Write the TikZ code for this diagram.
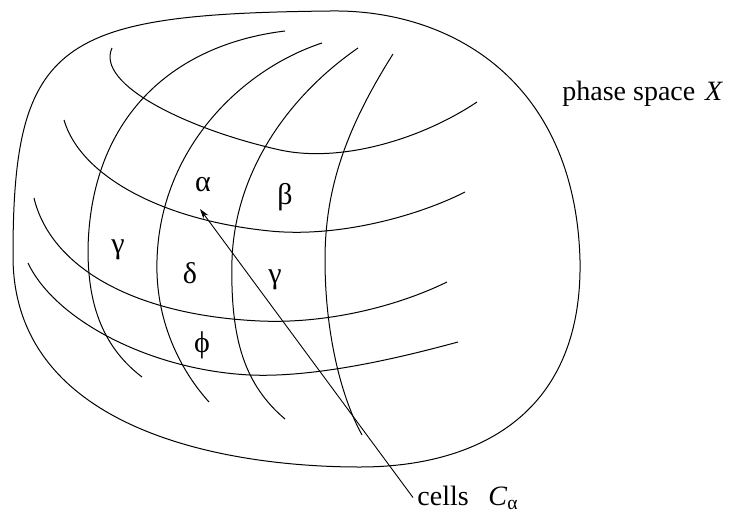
\documentclass[tikz,border=0pt]{standalone}
\usepackage{fontspec}
\setmainfont{Liberation Serif}
\usetikzlibrary{arrows.meta}

\begin{document}
\begin{tikzpicture}[
  x=0.5pt, y=-0.5pt,
  >=Stealth,
  fibre/.style={line width=0.5pt, black},
  vec/.style={->, line width=0.45pt, black, >={Stealth[length=5pt, width=3pt]}},
  cellname/.style={inner sep=0pt, font=\fontsize{15}{17}\selectfont},
  every node/.style={font=\fontsize{14}{16}\selectfont}
]
  \useasboundingbox (0,0) rectangle (733,514);

  % phase space boundary
  \draw[fibre] (13,255) .. controls (13,40) and (60,14) .. (330,11)
    .. controls (450,9) and (575,80) .. (580,260)
    .. controls (583,420) and (470,467) .. (360,467)
    .. controls (225,467) and (12,430) .. cycle;

  % horizontal fibres
  \draw[fibre] (112,48) .. controls (95,85) and (190,130) .. (280,150)
    .. controls (340,163) and (420,140) .. (477,102);
  \draw[fibre] (64,120) .. controls (80,175) and (160,220) .. (270,231)
    .. controls (340,238) and (420,215) .. (465,192);
  \draw[fibre] (34,198) .. controls (50,265) and (130,315) .. (260,321)
    .. controls (330,324) and (400,305) .. (447,282);
  \draw[fibre] (28,263) .. controls (55,320) and (150,370) .. (250,375)
    .. controls (320,378) and (410,355) .. (458,342);

  % vertical fibres
  \draw[fibre] (285,31) .. controls (170,45) and (90,120) .. (88,250)
    .. controls (88,300) and (100,345) .. (142,377);
  \draw[fibre] (322,43) .. controls (240,70) and (160,150) .. (157,260)
    .. controls (155,320) and (180,370) .. (209,402);
  \draw[fibre] (358,48) .. controls (290,95) and (235,170) .. (232,260)
    .. controls (230,340) and (245,385) .. (285,419);
  \draw[fibre] (393,54) .. controls (345,130) and (325,190) .. (325,260)
    .. controls (325,330) and (340,395) .. (362,435);

  % cell labels
  \foreach \nm/\x/\y/\g in {alpha/203/185/α, beta/285/197/β, gammaL/118/250/γ,
                           delta/190/273/δ, gammaR/275/280/γ, phi/202/345/ϕ} {
    \node[cellname] (\nm) at (\x,\y) {\g};
  }

  \node[anchor=base west, inner sep=0pt] (space) at (562,100) {phase space\hspace{0.35em}\textit{X}};
  \node[anchor=base west, inner sep=2pt] (cells) at (413,505) {cells\hspace{0.7em}\textit{C}\textsubscript{α}};

  \coordinate (tip) at (200,209);
  \draw[vec] (cells.west) -- (tip);
\end{tikzpicture}
\end{document}
